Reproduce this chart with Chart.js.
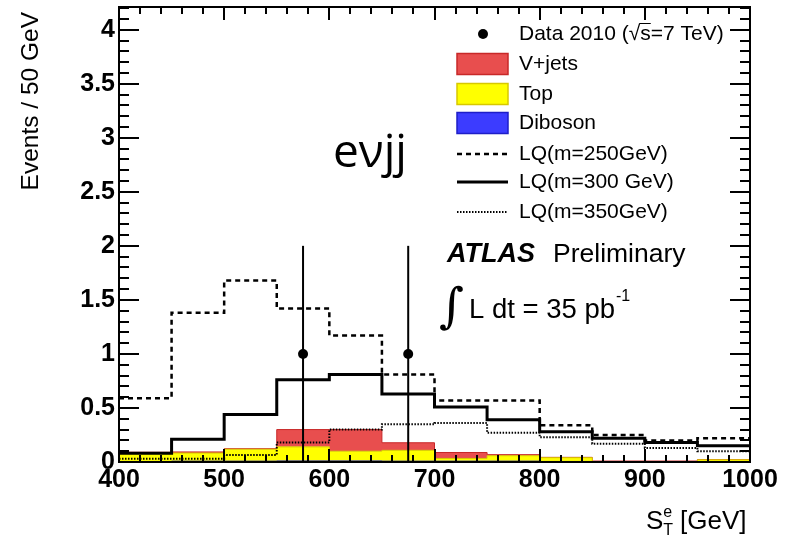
<!DOCTYPE html>
<html>
<head>
<meta charset="utf-8">
<script src="https://cdn.jsdelivr.net/npm/chart.js@4/dist/chart.umd.min.js"></script>
<style>
  html, body { margin: 0; padding: 0; background: #fff; }
  canvas { display: block; }
</style>
</head>
<body>
<canvas id="c" width="789" height="543"></canvas>
<script>
// Bin edges of the S_T^e histogram (GeV)
const binEdges = [400, 450, 500, 550, 600, 650, 700, 750, 800, 850, 900, 950, 1000];

// Background expectations per 50 GeV bin
const dibosonValues = [0.005, 0.008, 0.008, 0.01, 0.01, 0.008, 0.008, 0.008, 0.005, 0.003, 0.003, 0.003];
const topValues     = [0.08, 0.075, 0.11, 0.13, 0.09, 0.10, 0.025, 0.05, 0.035, 0.0, 0.0, 0.017];
const vjetsValues   = [0.005, 0.01, 0.005, 0.16, 0.20, 0.07, 0.055, 0.01, 0.003, 0.006, 0.006, 0.002];

// Leptoquark signal expectations
const lq250Values = [0.59, 1.38, 1.68, 1.42, 1.17, 0.81, 0.57, 0.57, 0.34, 0.25, 0.20, 0.22];
const lq300Values = [0.08, 0.21, 0.44, 0.76, 0.81, 0.63, 0.51, 0.39, 0.28, 0.22, 0.18, 0.15];
const lq350Values = [0.03, 0.03, 0.065, 0.18, 0.30, 0.35, 0.36, 0.27, 0.23, 0.17, 0.13, 0.10];

// Observed events (non-empty bins only)
const dataX = [575, 675];
const dataY = [1, 1];
const dataErr = [1, 1];

// Axis ticks
const xTickLabels = [400, 500, 600, 700, 800, 900, 1000];
const yTickLabels = [0, 0.5, 1, 1.5, 2, 2.5, 3, 3.5, 4];
const xMinorStep = 20;
const yMinorStep = 0.1;

// Step-histogram points: one point per left edge, last value repeated at the upper edge
function histPoints(values) {
  return binEdges.map((x, i) => ({ x, y: values[Math.min(i, values.length - 1)] }));
}
function stackSum(...arrays) {
  return arrays[0].map((_, i) => arrays.reduce((s, a) => s + a[i], 0));
}

const stackDiboson = dibosonValues;
const stackTop = stackSum(dibosonValues, topValues);
const stackVjets = stackSum(dibosonValues, topValues, vjetsValues);

const FONT = '"Liberation Sans", Arial, Helvetica, sans-serif';

const COL = {
  vjetsFill: 'rgb(232,78,78)', vjetsLine: 'rgb(200,40,40)',
  topFill: 'rgb(255,255,0)', topLine: 'rgb(215,200,0)',
  dibFill: 'rgb(60,60,255)', dibLine: 'rgb(30,30,200)'
};

const histBase = { stepped: true, pointRadius: 0, pointHoverRadius: 0, tension: 0 };

const datasets = [
  {
    label: 'Data 2010',
    data: dataX.map((x, i) => ({ x, y: dataY[i] })),
    showLine: false, pointRadius: 5, pointHoverRadius: 5,
    pointBackgroundColor: '#000', pointBorderColor: '#000', pointBorderWidth: 0,
    borderColor: '#000', backgroundColor: '#000'
  },
  Object.assign({ label: 'LQ(m=250GeV)', data: histPoints(lq250Values),
    borderColor: '#000', borderWidth: 2.5, borderDash: [5, 4], fill: false }, histBase),
  Object.assign({ label: 'LQ(m=300 GeV)', data: histPoints(lq300Values),
    borderColor: '#000', borderWidth: 3, fill: false }, histBase),
  Object.assign({ label: 'LQ(m=350GeV)', data: histPoints(lq350Values),
    borderColor: '#000', borderWidth: 2, borderDash: [1.5, 1.5], fill: false }, histBase),
  Object.assign({ label: 'Diboson', data: histPoints(stackDiboson),
    borderColor: COL.dibLine, borderWidth: 1, backgroundColor: COL.dibFill, fill: 'origin' }, histBase),
  Object.assign({ label: 'Top', data: histPoints(stackTop),
    borderColor: COL.topLine, borderWidth: 1, backgroundColor: COL.topFill, fill: '-1' }, histBase),
  Object.assign({ label: 'V+jets', data: histPoints(stackVjets),
    borderColor: COL.vjetsLine, borderWidth: 1, backgroundColor: COL.vjetsFill, fill: '-1' }, histBase)
];

// Inward tick marks on all four sides, drawn as filled rectangles
function drawTicks(ctx, chart, color, thick) {
  const a = chart.chartArea;
  const xs = chart.scales.x, ys = chart.scales.y;
  const L = Math.round(a.left), R = Math.round(a.right);
  const T = Math.round(a.top), B = Math.round(a.bottom);
  ctx.fillStyle = color;
  const nY = Math.round((ys.max - ys.min) / yMinorStep - 0.5);
  for (let k = 0; k <= nY; k++) {
    const v = ys.min + k * yMinorStep;
    const py = Math.round(ys.getPixelForValue(v));
    const major = yTickLabels.some(t => Math.abs(t - v) < 1e-6);
    const len = major ? 20 : 10;
    ctx.fillRect(L, py - thick / 2, len, thick);
    ctx.fillRect(R - len, py - thick / 2, len, thick);
  }
  const nX = Math.round((xs.max - xs.min) / xMinorStep);
  for (let k = 0; k <= nX; k++) {
    const v = xs.min + k * xMinorStep;
    const px = Math.round(xs.getPixelForValue(v));
    const major = xTickLabels.some(t => Math.abs(t - v) < 1e-6);
    const len = major ? 13 : 7;
    ctx.fillRect(px - thick / 2, B - len, thick, len);
    ctx.fillRect(px - thick / 2, T, thick, len);
  }
}

// Error bars, frame and ticks
const framePlugin = {
  id: 'frame',
  afterDraw(chart) {
    const ctx = chart.ctx;
    const a = chart.chartArea;
    const xs = chart.scales.x, ys = chart.scales.y;
    ctx.save();
    ctx.setLineDash([]);
    ctx.fillStyle = '#000';
    dataX.forEach((xv, i) => {
      const px = xs.getPixelForValue(xv);
      const y0 = ys.getPixelForValue(Math.max(0, dataY[i] - dataErr[i]));
      const y1 = ys.getPixelForValue(dataY[i] + dataErr[i]);
      ctx.fillRect(px - 1, y1, 2, y0 - y1);
    });
    ctx.strokeStyle = '#000';
    ctx.lineWidth = 2;
    ctx.strokeRect(Math.round(a.left), Math.round(a.top),
      Math.round(a.right) - Math.round(a.left), Math.round(a.bottom) - Math.round(a.top));
    drawTicks(ctx, chart, '#000', 2);
    ctx.restore();
  }
};

// Legend, axis titles and annotations
const textPlugin = {
  id: 'annot',
  afterDraw(chart) {
    const ctx = chart.ctx;
    const ds = chart.data.datasets;
    ctx.save();
    ctx.setLineDash([]);
    ctx.fillStyle = '#000';
    ctx.textBaseline = 'middle';

    // y-axis title
    ctx.save();
    ctx.translate(31, 12);
    ctx.rotate(-Math.PI / 2);
    ctx.textAlign = 'right';
    ctx.font = '24.5px ' + FONT;
    ctx.fillText('Events / 50 GeV', 0, 0);
    ctx.restore();

    // x-axis title: S_T^e [GeV]
    ctx.textAlign = 'left';
    ctx.font = '26px ' + FONT;
    let tx = 646;
    const ty = 522;
    ctx.fillText('S', tx, ty);
    tx += ctx.measureText('S').width;
    ctx.font = '16px ' + FONT;
    ctx.fillText('e', tx, ty - 9);
    ctx.fillText('T', tx, ty + 9);
    tx += ctx.measureText('T').width + 7;
    ctx.font = '26px ' + FONT;
    ctx.fillText('[GeV]', tx, ty);

    // legend
    const lx = 519, bx0 = 457, bx1 = 508;
    ctx.font = '21px ' + FONT;
    ctx.beginPath();
    ctx.arc(483, 34, 5, 0, Math.PI * 2);
    ctx.fill();
    const t = ds[0].label + ' (';
    ctx.fillText(t, lx, 34);
    let cx = lx + ctx.measureText(t).width;
    ctx.fillText('\u221A', cx, 34);
    cx += ctx.measureText('\u221A').width;
    const sw = ctx.measureText('s').width;
    ctx.fillText('s', cx, 34);
    ctx.lineWidth = 1;
    ctx.strokeStyle = '#000';
    ctx.beginPath();
    ctx.moveTo(cx - 1, 23.5); ctx.lineTo(cx + sw, 23.5);
    ctx.stroke();
    cx += sw;
    ctx.fillText('=7 TeV)', cx, 34);

    const boxes = [
      { d: ds[6], y: 64 },
      { d: ds[5], y: 94 },
      { d: ds[4], y: 123 }
    ];
    boxes.forEach(b => {
      ctx.fillStyle = b.d.backgroundColor;
      ctx.fillRect(bx0, b.y - 10.5, bx1 - bx0, 21);
      ctx.strokeStyle = b.d.borderColor;
      ctx.lineWidth = 1.5;
      ctx.strokeRect(bx0, b.y - 10.5, bx1 - bx0, 21);
      ctx.fillStyle = '#000';
      ctx.fillText(b.d.label, lx, b.y);
    });
    const lines = [
      { d: ds[1], y: 154 },
      { d: ds[2], y: 182 },
      { d: ds[3], y: 212 }
    ];
    lines.forEach(l => {
      ctx.strokeStyle = '#000';
      ctx.lineWidth = l.d.borderWidth;
      ctx.setLineDash(l.d.borderDash || []);
      ctx.beginPath();
      ctx.moveTo(bx0, l.y); ctx.lineTo(bx1, l.y);
      ctx.stroke();
      ctx.setLineDash([]);
      ctx.fillText(l.d.label, lx, l.y);
    });

    // channel label
    ctx.textBaseline = 'alphabetic';
    ctx.font = '46px "Open Sans", "DejaVu Sans", sans-serif';
    ctx.fillText('e\u03BDjj', 333, 167);
    ctx.textBaseline = 'middle';

    // ATLAS Preliminary
    ctx.font = 'italic bold 27px ' + FONT;
    ctx.fillText('ATLAS', 447, 255);
    ctx.font = '26.5px ' + FONT;
    ctx.fillText('Preliminary', 553, 255);

    // integrated luminosity
    ctx.font = '48px "DejaVu Serif", "Liberation Serif", serif';
    ctx.fillText('\u222B', 439, 310);
    ctx.font = '27.5px ' + FONT;
    ctx.fillText('L dt = 35 pb', 469, 310);
    const w = ctx.measureText('L dt = 35 pb').width;
    ctx.font = '16px ' + FONT;
    ctx.fillText('-1', 469 + w + 1, 297);

    ctx.restore();
  }
};

new Chart(document.getElementById('c'), {
  type: 'line',
  data: { datasets },
  plugins: [framePlugin, textPlugin],
  options: {
    responsive: false,
    animation: false,
    devicePixelRatio: 1,
    events: [],
    layout: { padding: { top: 7, right: 39, left: 0, bottom: 0 } },
    plugins: { legend: { display: false }, tooltip: { enabled: false } },
    scales: {
      x: {
        type: 'linear', min: 400, max: 1000,
        grid: { display: false, drawTicks: false },
        border: { display: false },
        afterBuildTicks: s => { s.ticks = xTickLabels.map(v => ({ value: v })); },
        afterFit: s => { s.height = 81; s.paddingLeft = 0; s.paddingRight = 0; },
        ticks: {
          color: '#000', padding: 3, maxRotation: 0, autoSkip: false,
          font: { family: FONT, size: 25, weight: 'bold' },
          callback: v => String(v)
        }
      },
      y: {
        type: 'linear', min: 0, max: 4.21,
        grid: { display: false, drawTicks: false },
        border: { display: false },
        afterBuildTicks: s => { s.ticks = yTickLabels.map(v => ({ value: v })); },
        afterFit: s => { s.width = 119; s.paddingTop = 0; s.paddingBottom = 0; },
        ticks: {
          color: '#000', padding: 4, autoSkip: false,
          font: { family: FONT, size: 25, weight: 'bold' },
          callback: v => String(v)
        }
      }
    }
  }
});
</script>
</body>
</html>
